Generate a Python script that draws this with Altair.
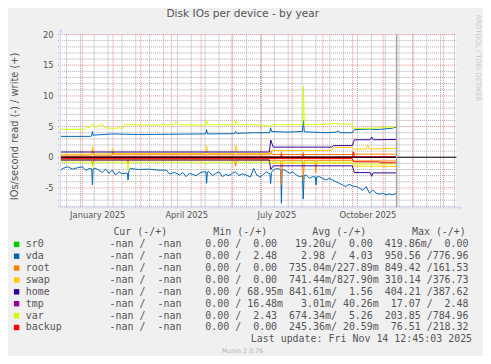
import altair as alt
import pandas as pd

# ---------------- data ----------------
START = pd.Timestamp("2024-12-09 20:00")
END = START + pd.Timedelta(days=400)
NOW = pd.Timestamp("2025-11-14 12:45")

TITLE = "Disk IOs per device - by year"
Y_TITLE = "IOs/second read (-) / write (+)"
Y_DOMAIN = [-8.23, 20]
Y_TICKS = [-5, 0, 5, 10, 15, 20]
Y_TICK_LABELS = ["-5", "0", "5", "10", "15", "20"]
X_LABEL_AT = ["2025-01-16 12:00", "2025-04-16 12:00", "2025-07-16 12:00", "2025-10-16 12:00"]
X_LABELS = ["January 2025", "April 2025", "July 2025", "October 2025"]

DEVICES = ["sr0", "vda", "root", "swap", "home", "tmp", "var", "backup"]
COLORS = ["#00CC00", "#0066B3", "#FF8000", "#FFCC00", "#330099", "#990099", "#CCFF00", "#FF0000"]

# (days since START, IOs/second) pairs; reads are plotted negative
sr0_read = [(0, 0.0), (339.5, 0.0)]
sr0_write = [(0, 0.0), (339.5, 0.0)]

vda_read = [(0, -2.1), (2.3, -1.83), (7.3, -1.56), (12.3, -1.94), (17.3, -1.72), (22.3, -1.56),
            (25.7, -2.15), (29, -1.83), (31.6, -1.9), (32.3, -4.5), (33.0, -1.9), (35.7, -1.83),
            (39, -2.15), (42.3, -2.47), (45.7, -1.94), (49, -2.63), (52.3, -2.1), (55.7, -2.9),
            (59, -2.37), (62.3, -2.7), (65.7, -2.6), (67.6, -2.6), (68.3, -3.7), (69.2, -2.2),
            (70.7, -1.83), (79, -2.0), (89, -1.94), (99, -2.1), (107, -2.1), (110.3, -2.74),
            (115.3, -2.47), (120.3, -2.9), (123.7, -2.47), (127, -3.17), (130.3, -2.63),
            (133.7, -2.8), (137, -3.0), (142, -2.47), (145.3, -2.37), (147.0, -2.4),
            (147.7, -4.25), (148.5, -2.4), (150.3, -2.37), (153.7, -3.0), (157, -2.63),
            (160.3, -2.37), (163.7, -3.17), (167, -2.8), (170.3, -3.0), (173.7, -2.63),
            (177, -2.37), (180.3, -3.0), (183.7, -2.7), (187.7, -2.9), (192, -3.23),
            (195.3, -1.83), (198.3, -2.9), (201.7, -3.23), (205, -2.8), (208.3, -2.37),
            (211.7, -2.7), (212.4, -4.3), (213.2, -2.5), (215, -2.1), (218.3, -1.83),
            (222.6, -2.0), (223.3, -7.5), (224.0, -2.0), (226.7, -2.1), (231.7, -2.63),
            (235, -2.37), (238.3, -2.9), (241.7, -3.17), (244.6, -3.0), (245.4, -6.8),
            (246.2, -3.0), (248.3, -2.9), (251.7, -3.44), (255, -3.17), (257.6, -3.2),
            (258.3, -4.5), (259.0, -3.2), (261.7, -3.17), (265, -3.44), (268.3, -3.7),
            (271.7, -3.44), (275, -3.7), (278.3, -3.98), (281.7, -4.25), (285, -4.5),
            (288.3, -4.78), (291.7, -4.4), (295, -4.68), (299, -4.78), (302.3, -5.05),
            (305.7, -5.38), (309, -4.78), (312.3, -5.86), (315.7, -5.32), (319, -5.86),
            (322.3, -6.02), (325.7, -5.86), (329, -6.13), (332.3, -5.97), (335.7, -6.13),
            (339.5, -5.86)]
vda_write = [(0, 3.4), (29, 3.4), (31.5, 3.45), (32.3, 4.2), (33, 3.6), (52, 3.8), (79, 3.7),
             (109, 3.75), (146.8, 3.8), (147.7, 4.5), (148.6, 3.8), (176, 3.85), (177, 4.2),
             (178, 3.9), (195, 4.0), (211.5, 4.0), (212.3, 4.8), (213.5, 4.2), (229, 4.1),
             (244.6, 4.2), (245.5, 6.0), (246.4, 4.15), (269, 4.0), (279, 4.1), (280, 4.3),
             (283, 4.0), (295, 4.0), (297, 4.5), (314, 4.6), (319, 4.5), (334, 4.7), (339.5, 4.9)]

root_read = [(0, -0.45), (31.5, -0.45), (32.5, -1.3), (33.5, -0.45), (67.5, -0.45), (68.3, -1.0),
             (69, -0.45), (176, -0.45), (177, -1.5), (178, -0.45), (222.5, -0.5), (223.3, -4.5),
             (224.2, -0.5), (244.5, -0.5), (245.5, -3.7), (246.5, -0.5), (257, -0.5), (258, -2.5),
             (259, -0.5), (295, -0.5), (297, -0.6), (339.5, -0.6)]
root_write = [(0, 0.35), (31.5, 0.35), (32.5, 1.2), (33.5, 0.35), (52, 0.35), (53, 0.9), (54, 0.4),
              (212, 0.4), (213, 1.0), (214, 0.45), (222.5, 0.45), (223.3, 0.9), (224, 0.45),
              (244.5, 0.45), (245.5, 0.8), (246.5, 0.45), (295, 0.45), (296, 0.9), (297, 0.5),
              (339.5, 0.5)]

swap_read = [(0, -0.35), (211, -0.4), (213, -0.95), (295, -0.95), (297, -1.45), (339.5, -1.5)]
swap_write = [(0, 0.5), (31, 0.5), (32.5, 1.7), (34, 0.55), (51, 0.55), (52.7, 1.4), (54.5, 0.6),
              (146.5, 0.6), (147.7, 1.9), (149, 0.6), (176, 0.6), (177.5, 1.9), (179, 0.6),
              (211, 0.6), (213, 1.1), (274, 1.1), (276, 1.6), (295, 1.6), (297, 1.3), (309, 1.35),
              (310.5, 2.0), (312, 1.35), (339.5, 1.45)]

home_read = [(0, -0.45), (211, -0.45), (212.5, -2.0), (215, -1.4), (295, -1.4), (297, -2.5),
             (313, -2.5), (314.5, -3.1), (316, -2.55), (339.5, -2.55)]
home_write = [(0, 0.85), (211, 0.85), (212.5, 2.8), (215, 1.65), (274, 1.65), (276, 1.9), (295, 1.9),
              (297, 2.85), (313, 2.85), (314.5, 3.3), (316, 2.85), (339.5, 2.9)]

tmp_read = [(0, -0.01), (339.5, -0.01)]
tmp_write = [(0, 0.02), (339.5, 0.02)]

var_read = [(0, -0.8), (31.5, -0.8), (32.5, -1.6), (33.5, -0.8), (67.5, -0.8), (68.3, -2.2),
            (69.3, -0.8), (146.5, -0.8), (147.7, -1.2), (149, -0.8), (295, -0.8), (297, -1.1),
            (339.5, -1.1)]
var_write = [(0, 4.55), (25, 4.55), (27, 5.0), (29, 4.8), (32.3, 5.4), (35, 4.9), (39, 5.1),
             (42, 5.5), (45, 4.8), (54, 4.7), (59, 4.8), (63, 4.7), (66, 5.4), (69, 5.3),
             (89, 5.25), (115, 5.3), (117, 5.8), (119, 5.3), (146.7, 5.25), (147.7, 6.0),
             (148.7, 5.3), (176, 5.3), (177.5, 6.0), (179, 5.3), (195, 5.3), (207, 5.2),
             (211, 5.0), (214, 5.3), (244.6, 5.3), (245.5, 11.6), (246.4, 5.3), (269, 5.4),
             (279, 5.5), (284, 5.4), (295, 5.4), (297, 4.7), (309, 4.7), (324, 4.8), (332, 5.0),
             (335, 4.8), (339.5, 5.1)]

backup_read = [(0, -0.22), (295, -0.22), (296.5, -0.75), (322, -0.75), (323, -0.9), (339.5, -0.9)]
backup_write = [(0, 0.0), (222.5, 0.0), (223.3, 0.5), (224.3, 0.0), (244.5, 0.0), (245.5, 0.5),
                (246.5, 0.0), (295, 0.0), (296, 0.85), (297, 0.05), (339.5, 0.05)]

READS = [sr0_read, vda_read, root_read, swap_read, home_read, tmp_read, var_read, backup_read]
WRITES = [sr0_write, vda_write, root_write, swap_write, home_write, tmp_write, var_write, backup_write]

# legend table values (read, write)
CUR = [("-nan", "-nan")] * 8
MINS = [("0.00", "0.00"), ("0.00", "2.48"), ("0.00", "0.00"), ("0.00", "0.00"),
        ("0.00", "68.95m"), ("0.00", "16.48m"), ("0.00", "2.43"), ("0.00", "0.00")]
AVGS = [("19.20u", "0.00"), ("2.98", "4.03"), ("735.04m", "227.89m"), ("741.44m", "827.90m"),
        ("841.61m", "1.56"), ("3.01m", "40.26m"), ("674.34m", "5.26"), ("245.36m", "20.59m")]
MAXS = [("419.86m", "0.00"), ("950.56", "776.96"), ("849.42", "161.53"), ("310.14", "376.73"),
        ("404.21", "387.62"), ("17.07", "2.48"), ("203.85", "784.96"), ("76.51", "218.32")]
HEADERS = ["Cur (-/+)", "Min (-/+)", "Avg (-/+)", "Max (-/+)"]
LAST_UPDATE = "Last update: Fri Nov 14 12:45:03 2025"
FOOTER = "Munin 2.0.76"
SIDE_TEXT = "RRDTOOL / TOBI OETIKER"

# ---------------- styling ----------------
W, H = 400, 175
BG = "#F0F0F0"
FG = "#555555"
AXIS_COL = "#CFD6F8"
MINOR_GRID = "#A8A8A8"
MAJOR_GRID = "#E58A8A"
NBSP = "\u00a0"


def dt(ts):
    return alt.DateTime(year=ts.year, month=ts.month, date=ts.day, hours=ts.hour, minutes=ts.minute)


xscale = alt.Scale(domain=[dt(START), dt(END)])
yscale = alt.Scale(domain=Y_DOMAIN, nice=False, zero=False)
XN = dict(scale=xscale, axis=None)
YN = dict(scale=yscale, axis=None)

one = pd.DataFrame({"a": [0]})

# grid
minor_h = pd.DataFrame({"v": [v for v in range(-8, 21) if v % 5 != 0]})
major_h = pd.DataFrame({"v": Y_TICKS})
month_starts = pd.date_range("2025-01-01", "2026-01-01", freq="MS")
biweekly = pd.date_range("2024-12-16", END, freq="14D")
major_v = pd.DataFrame({"date": month_starts})
minor_v = pd.DataFrame({"date": biweekly})

grid_minor_h = alt.Chart(minor_h).mark_rule(color=MINOR_GRID, strokeWidth=1, strokeDash=[1, 1]).encode(
    y=alt.Y("v:Q", **YN), x=alt.value(-2.5), x2=alt.value(W))
grid_minor_v = alt.Chart(minor_v).mark_rule(color=MINOR_GRID, strokeWidth=1, strokeDash=[1, 1]).encode(
    x=alt.X("date:T", **XN))
grid_major_v = alt.Chart(major_v).mark_rule(color=MAJOR_GRID, strokeWidth=1, strokeDash=[1, 1]).encode(
    x=alt.X("date:T", **XN))
grid_major_h = alt.Chart(major_h).mark_rule(color=MAJOR_GRID, strokeWidth=1, strokeDash=[1, 1]).encode(
    y=alt.Y("v:Q", **YN), x=alt.value(-2.5), x2=alt.value(W))

# axis labels (drawn through the same scales)
xlab_df = pd.DataFrame({"date": pd.to_datetime(X_LABEL_AT), "t": X_LABELS})
x_labels = alt.Chart(xlab_df).mark_text(
    font="DejaVu Sans", fontSize=8.4, color=FG, align="center", baseline="middle").encode(
    x=alt.X("date:T", **XN), y=alt.value(182.5), text="t:N")
ylab_df = pd.DataFrame({"v": Y_TICKS, "t": Y_TICK_LABELS})
y_labels = alt.Chart(ylab_df).mark_text(
    font="DejaVu Sans", fontSize=8.4, color=FG, align="right", baseline="middle").encode(
    y=alt.Y("v:Q", **YN), x=alt.value(-7), text="t:N")

# data lines
rows = []
for dev, rd, wr in zip(DEVICES, READS, WRITES):
    for kind, pairs in (("read", rd), ("write", wr)):
        for d, v in pairs:
            rows.append({"key": f"{dev}_{kind}", "date": START + pd.Timedelta(days=d), "v": v})
lines_df = pd.DataFrame(rows)

line_layers = []
for dev, col in zip(DEVICES, COLORS):
    for kind in ("read", "write"):
        key = f"{dev}_{kind}"
        line_layers.append(
            alt.Chart(lines_df).transform_filter(alt.datum.key == key)
            .mark_line(color=col, strokeWidth=1)
            .encode(x=alt.X("date:T", **XN), y=alt.Y("v:Q", **YN))
        )

zero_line = alt.Chart(pd.DataFrame({"v": [0]})).mark_rule(color="#000000", strokeWidth=1).encode(
    y=alt.Y("v:Q", **YN))
now_line = alt.Chart(pd.DataFrame({"date": [NOW]})).mark_rule(color="#A0A0A0", strokeWidth=1.5).encode(
    x=alt.X("date:T", **XN))

# axes with arrows
y_axis_line = alt.Chart(one).mark_rule(color=AXIS_COL, strokeWidth=1).encode(
    x=alt.value(0), y=alt.value(-5), y2=alt.value(175.5))
x_axis_line = alt.Chart(one).mark_rule(color=AXIS_COL, strokeWidth=1).encode(
    x=alt.value(-0.5), x2=alt.value(404), y=alt.value(175))
y_arrow = alt.Chart(one).mark_point(shape="triangle-up", filled=True, size=22, color=AXIS_COL, opacity=1).encode(
    x=alt.value(0), y=alt.value(-4))
x_arrow = alt.Chart(one).mark_point(shape="triangle-right", filled=True, size=22, color=AXIS_COL, opacity=1).encode(
    x=alt.value(404), y=alt.value(175))

# titles
title_layer = alt.Chart(pd.DataFrame({"t": [TITLE]})).mark_text(
    font="DejaVu Sans", fontSize=10.7, color=FG, align="center", baseline="alphabetic").encode(
    text="t:N", x=alt.value(184.2), y=alt.value(-18))
ytitle_layer = alt.Chart(pd.DataFrame({"t": [Y_TITLE]})).mark_text(
    font="DejaVu Sans", fontSize=10, color=FG, align="center", baseline="middle", angle=270).encode(
    text="t:N", x=alt.value(-46), y=alt.value(92.8))
side_layer = alt.Chart(pd.DataFrame({"t": [SIDE_TEXT]})).mark_text(
    font="DejaVu Sans", fontSize=6.8, color="#C8C8C8", align="left", baseline="middle", angle=90).encode(
    text="t:N", x=alt.value(421.5), y=alt.value(-20))


# legend
def cell(s):
    s = s if s[-1] in "umkMG" else s + " "
    return s.rjust(7)


def group(pair):
    return cell(pair[0]) + "/" + cell(pair[1])


leg_rows = []
for i, dev in enumerate(DEVICES):
    line = dev.ljust(12) + " ".join([group(CUR[i]), group(MINS[i]), group(AVGS[i]), group(MAXS[i])])
    leg_rows.append({"text": line.replace(" ", NBSP), "px": -35.0, "py": 212.0 + 12.0 * i})
for j, h in enumerate(HEADERS):
    leg_rows.append({"text": h.replace(" ", NBSP), "px": [53.5, 154.5, 254.5, 355.2][j], "py": 200.0})
leg_df = pd.DataFrame(leg_rows)

legend_text = alt.Chart(leg_df).mark_text(
    font="DejaVu Sans Mono", fontSize=10.05, color=FG, align="left", baseline="middle").encode(
    x=alt.X("px:Q", scale=None, axis=None), y=alt.Y("py:Q", scale=None, axis=None), text="text:N")

sq_df = pd.DataFrame({"px": [-44.3] * 8, "py": [212.0 + 12.0 * i for i in range(8)], "color": COLORS})
legend_sq = alt.Chart(sq_df).mark_square(size=30, opacity=1).encode(
    x=alt.X("px:Q", scale=None, axis=None), y=alt.Y("py:Q", scale=None, axis=None),
    color=alt.Color("color:N", scale=None))

last_layer = alt.Chart(pd.DataFrame({"t": [LAST_UPDATE.replace(" ", NBSP)]})).mark_text(
    font="DejaVu Sans Mono", fontSize=10.05, color=FG, align="right", baseline="middle").encode(
    text="t:N", x=alt.value(416), y=alt.value(308))
footer_layer = alt.Chart(pd.DataFrame({"t": [FOOTER]})).mark_text(
    font="DejaVu Sans", fontSize=6.4, color="#B0B0B0", align="center", baseline="middle").encode(
    text="t:N", x=alt.value(184), y=alt.value(319.7))

chart = alt.layer(
    grid_minor_h, grid_minor_v, grid_major_h, grid_major_v,
    *line_layers,
    zero_line, now_line,
    y_axis_line, x_axis_line, y_arrow, x_arrow,
    x_labels, y_labels,
    title_layer, ytitle_layer, side_layer,
    legend_text, legend_sq, last_layer, footer_layer,
).properties(
    width=W, height=H,
    padding={"left": 53, "top": 25, "right": 27, "bottom": 148},
    autosize=alt.AutoSizeParams(type="none"),
    background=BG,
).configure_view(fill="#FFFFFF", stroke=None)

chart.save("out.html", embed_options={"renderer": "svg", "actions": False})
